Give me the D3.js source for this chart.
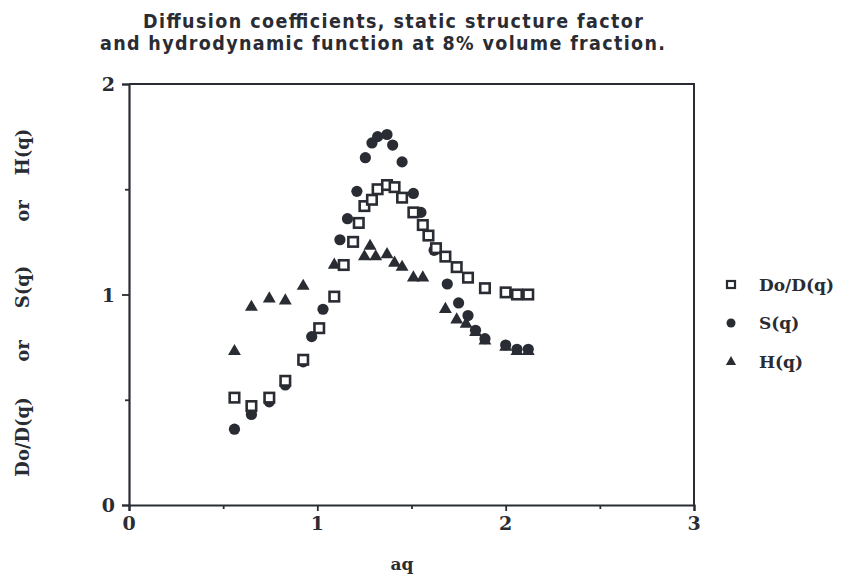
<!DOCTYPE html>
<html>
<head>
<meta charset="utf-8">
<script src="https://cdn.jsdelivr.net/npm/d3@7"></script>
<style>
  html, body { margin: 0; padding: 0; background: #ffffff; }
  svg { display: block; }
</style>
</head>
<body>
<svg id="chart" width="850" height="580"></svg>
<script>
// ---------------- data ----------------
const titleLines = [
  "Diffusion coefficients, static structure factor",
  "and hydrodynamic function at 8% volume fraction."
];
const xLabel = "aq";
const yLabelWords = ["Do/D(q)", "or", "S(q)", "or", "H(q)"];
const xTicks = [0, 1, 2, 3];
const yTicks = [0, 1, 2];
const seriesNames = ["Do/D(q)", "S(q)", "H(q)"];

// Do/D(q) — open squares
const doX = [0.56, 0.65, 0.745, 0.83, 0.925, 1.01, 1.09, 1.14, 1.19, 1.22, 1.25, 1.29, 1.32, 1.37, 1.41, 1.45, 1.51, 1.56, 1.59, 1.63, 1.68, 1.74, 1.80, 1.89, 2.00, 2.06, 2.12];
const doY = [0.51, 0.47, 0.51, 0.59, 0.69, 0.84, 0.99, 1.14, 1.25, 1.34, 1.42, 1.45, 1.50, 1.52, 1.51, 1.46, 1.39, 1.33, 1.28, 1.22, 1.18, 1.13, 1.08, 1.03, 1.01, 1.00, 1.00];

// S(q) — filled circles
const sX = [0.56, 0.65, 0.745, 0.83, 0.925, 0.97, 1.03, 1.12, 1.16, 1.21, 1.255, 1.29, 1.32, 1.37, 1.40, 1.45, 1.51, 1.55, 1.62, 1.69, 1.75, 1.80, 1.84, 1.89, 2.00, 2.06, 2.12];
const sY = [0.36, 0.43, 0.49, 0.57, 0.68, 0.80, 0.93, 1.26, 1.36, 1.49, 1.65, 1.72, 1.75, 1.76, 1.71, 1.63, 1.48, 1.39, 1.21, 1.05, 0.96, 0.90, 0.83, 0.79, 0.76, 0.74, 0.74];

// H(q) — filled triangles
const hX = [0.56, 0.65, 0.745, 0.83, 0.925, 1.09, 1.25, 1.28, 1.31, 1.37, 1.41, 1.45, 1.51, 1.56, 1.68, 1.74, 1.79, 1.84, 1.89, 2.00, 2.06, 2.12];
const hY = [0.73, 0.94, 0.98, 0.97, 1.04, 1.14, 1.18, 1.23, 1.18, 1.19, 1.15, 1.13, 1.08, 1.08, 0.93, 0.88, 0.86, 0.82, 0.78, 0.75, 0.73, 0.73];

// ---------------- drawing ----------------
const ink = "#2a2c33";
const serif = "'DejaVu Serif', 'Liberation Serif', serif";
const narrow = "'DejaVu Sans Condensed', 'Liberation Sans Narrow', 'Arial Narrow', sans-serif";

const svg = d3.select("#chart");
const plot = { left: 129, right: 694, top: 84, bottom: 505 };

const x = d3.scaleLinear().domain([0, 3]).range([plot.left, plot.right]);
const y = d3.scaleLinear().domain([0, 2]).range([plot.bottom, plot.top]);

// title
const titleSpecs = [
  { x0: 143, x1: 643, yb: 28 },
  { x0: 100, x1: 665, yb: 50 }
];
titleLines.forEach((t, i) => {
  const s = titleSpecs[i];
  svg.append("text")
    .attr("x", s.x0).attr("y", s.yb)
    .attr("textLength", s.x1 - s.x0)
    .attr("lengthAdjust", "spacing")
    .attr("font-family", narrow)
    .attr("font-weight", "bold")
    .attr("font-size", 19.5)
    .attr("fill", ink)
    .text(t);
});

// frame (top & right)
svg.append("path")
  .attr("d", `M${plot.left},${plot.top}H${plot.right}V${plot.bottom}`)
  .attr("fill", "none").attr("stroke", ink).attr("stroke-width", 2);

// axes
const xAxis = d3.axisBottom(x).tickValues(xTicks).tickSize(6).tickFormat("");
svg.append("g").attr("transform", `translate(0,${plot.bottom})`).call(xAxis);
const yAxis = d3.axisLeft(y).tickValues(yTicks).tickSize(7).tickFormat("");
svg.append("g").attr("transform", `translate(${plot.left},0)`).call(yAxis);
// minor ticks
svg.append("g").attr("transform", `translate(0,${plot.bottom})`)
  .call(d3.axisBottom(x).tickValues([0.5, 1.5, 2.5]).tickSize(4).tickFormat(""))
  .select(".domain").remove();
svg.append("g").attr("transform", `translate(${plot.left},0)`)
  .call(d3.axisLeft(y).tickValues([0.5, 1.5]).tickSize(4).tickFormat(""))
  .select(".domain").remove();
svg.selectAll(".domain").attr("stroke", ink).attr("stroke-width", 2.2);
svg.selectAll(".tick line").attr("stroke", ink).attr("stroke-width", 1.8);

// tick labels
svg.selectAll(".xtl").data(xTicks).enter().append("text")
  .attr("x", d => x(d)).attr("y", 530)
  .attr("text-anchor", "middle")
  .attr("font-family", serif).attr("font-weight", "bold").attr("font-size", 19)
  .attr("fill", ink).text(d => d);
svg.selectAll(".ytl").data(yTicks).enter().append("text")
  .attr("x", 115).attr("y", d => y(d) + 7)
  .attr("text-anchor", "end")
  .attr("font-family", serif).attr("font-weight", "bold").attr("font-size", 19)
  .attr("fill", ink).text(d => d);

// axis titles
svg.append("text")
  .attr("x", 402).attr("y", 570)
  .attr("text-anchor", "middle")
  .attr("font-family", serif).attr("font-weight", "bold").attr("font-size", 17)
  .attr("fill", ink).text(xLabel);
const yWordCenters = [437, 351, 287, 211, 152];
yLabelWords.forEach((w, i) => {
  svg.append("text")
    .attr("transform", `translate(29,${yWordCenters[i]}) rotate(-90)`)
    .attr("text-anchor", "middle")
    .attr("font-family", serif).attr("font-weight", "bold").attr("font-size", 18)
    .attr("fill", ink).text(w);
});

// markers
const sq = 9.5, circR = 5.6, tri = d3.symbol().type(d3.symbolTriangle).size(72);
function drawSquares(g, xs, ys) {
  g.selectAll("rect.m").data(xs.map((v, i) => [v, ys[i]])).enter().append("rect")
    .attr("x", d => x(d[0]) - sq / 2).attr("y", d => y(d[1]) - sq / 2)
    .attr("width", sq).attr("height", sq)
    .attr("fill", "#ffffff").attr("stroke", ink).attr("stroke-width", 2.6);
}
function drawCircles(g, xs, ys) {
  g.selectAll("circle.m").data(xs.map((v, i) => [v, ys[i]])).enter().append("circle")
    .attr("cx", d => x(d[0])).attr("cy", d => y(d[1])).attr("r", circR)
    .attr("fill", ink);
}
function drawTriangles(g, xs, ys) {
  g.selectAll("path.m").data(xs.map((v, i) => [v, ys[i]])).enter().append("path")
    .attr("d", tri)
    .attr("transform", d => `translate(${x(d[0])},${y(d[1])})`)
    .attr("fill", ink);
}
drawTriangles(svg.append("g"), hX, hY);
drawCircles(svg.append("g"), sX, sY);
drawSquares(svg.append("g"), doX, doY);

// legend
const legY = [285, 323, 362];
const lg = svg.append("g");
lg.append("rect").attr("x", 727).attr("y", legY[0] - 4).attr("width", 8).attr("height", 7)
  .attr("fill", "#fff").attr("stroke", ink).attr("stroke-width", 2.2);
lg.append("circle").attr("cx", 731).attr("cy", legY[1]).attr("r", 4.5).attr("fill", ink);
lg.append("path").attr("d", d3.symbol().type(d3.symbolTriangle).size(45))
  .attr("transform", `translate(731,${legY[2]})`).attr("fill", ink);
seriesNames.forEach((n, i) => {
  lg.append("text").attr("x", 759).attr("y", legY[i] + 6)
    .attr("font-family", serif).attr("font-weight", "bold").attr("font-size", 17)
    .attr("fill", ink).text(n);
});
</script>
</body>
</html>
